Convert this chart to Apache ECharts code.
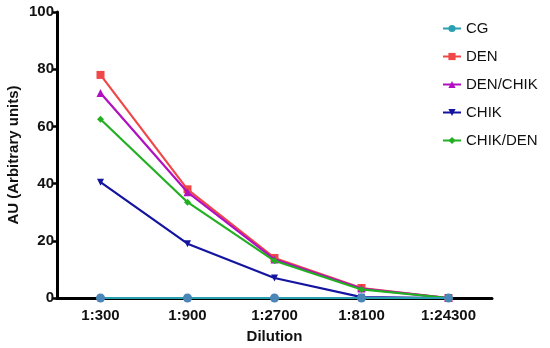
<!DOCTYPE html>
<html><head><meta charset="utf-8">
<script src="https://cdn.jsdelivr.net/npm/echarts@6/dist/echarts.min.js"></script>
<style>html,body{margin:0;padding:0;background:#fff}#c{width:550px;height:348px}</style>
</head><body><div id="c"></div>
<script>
const categories = ['1:300', '1:900', '1:2700', '1:8100', '1:24300'];
const yTicks = [0, 20, 40, 60, 80, 100];
const seriesNames = ['CG', 'DEN', 'DEN/CHIK', 'CHIK', 'CHIK/DEN'];
const cgValues = [0, 0, 0, 0, 0];
const denValues = [78, 38, 14, 3.5, 0];
const denChikValues = [71.7, 37, 13.5, 3.3, 0];
const chikValues = [40.5, 19, 7, 0.3, 0];
const chikDenValues = [62.5, 33.5, 13, 3, 0];

const colors = ['#2a9fb0', '#f04848', '#b010c0', '#1414a0', '#22b022'];
const markerColors = ['#4a86b8', '#f04848', '#b010c0', '#1414a0', '#22b022'];
const symbols = ['circle', 'rect', 'triangle', 'triangle', 'diamond'];
const symbolRotate = [0, 0, 0, 180, 0];
const symbolSizes = [9, 8, 8, 7, 7];
const valueSets = [cgValues, denValues, denChikValues, chikValues, chikDenValues];
const FF = 'Liberation Sans, Arial, sans-serif';

const chart = echarts.init(document.getElementById('c'), null, {renderer: 'canvas'});
const series = seriesNames.map((n, i) => ({
  name: n,
  type: 'line',
  data: valueSets[i],
  symbol: symbols[i],
  symbolRotate: symbolRotate[i],
  symbolSize: symbolSizes[i],
  lineStyle: {color: colors[i], width: 2.2},
  itemStyle: {color: markerColors[i]},
  z: i === 0 ? 10 : 2 + i,
  animation: false
}));
chart.setOption({
  animation: false,
  grid: {left: 57, right: 58, top: 12, bottom: 50, containLabel: false, outerBoundsMode: 'none'},
  legend: {
    orient: 'vertical', left: 437, top: 16, itemGap: 13,
    itemWidth: 18, itemHeight: 9,
    textStyle: {fontFamily: FF, fontSize: 15, color: '#111'},
    data: seriesNames.map((n, i) => ({name: n, itemStyle: {color: colors[i]}}))
  },
  xAxis: {
    type: 'category', data: categories, boundaryGap: true,
    name: 'Dilution', nameLocation: 'middle', nameGap: 31,
    nameTextStyle: {fontFamily: FF, fontWeight: 'bold', fontSize: 15, color: '#111'},
    axisLine: {lineStyle: {color: '#000', width: 3}},
    axisTick: {show: false},
    axisLabel: {fontFamily: FF, fontWeight: 'bold', fontSize: 15, color: '#111', margin: 10}
  },
  yAxis: {
    type: 'value', min: 0, max: 100, interval: 20,
    name: 'AU (Arbitrary units)', nameLocation: 'middle', nameGap: 36, nameMoveOverlap: false,
    nameTextStyle: {fontFamily: FF, fontWeight: 'bold', fontSize: 15, color: '#111'},
    axisLine: {show: true, lineStyle: {color: '#000', width: 3}},
    axisTick: {show: true, length: 5, lineStyle: {color: '#000', width: 2.5}},
    splitLine: {show: false},
    axisLabel: {fontFamily: FF, fontWeight: 'bold', fontSize: 15, color: '#111', margin: 3,
      formatter: v => yTicks.includes(v) ? String(v) : ''}
  },
  series: series
});
</script></body></html>
